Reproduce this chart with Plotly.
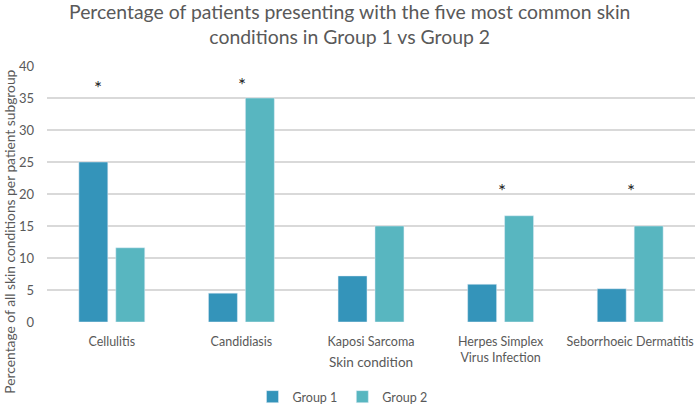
import plotly.graph_objects as go

categories = ["Cellulitis", "Candidiasis", "Kaposi Sarcoma",
              "Herpes Simplex<br>Virus Infection", "Seborrhoeic Dermatitis"]
group1 = [25.0, 4.5, 7.2, 5.9, 5.2]
group2 = [11.6, 35.0, 15.0, 16.6, 15.0]
star_cats = ["Cellulitis", "Candidiasis",
             "Herpes Simplex<br>Virus Infection", "Seborrhoeic Dermatitis"]
star_y = [37.2, 37.8, 21.1, 21.1]
star_shift = [-14, 1, 1, 1]
y_ticks = [0, 5, 10, 15, 20, 25, 30, 35, 40]

FONT = "Lato"
GREY = "#595959"

fig = go.Figure()
fig.add_trace(go.Bar(name="Group 1", x=categories, y=group1, marker_color="#3494BA"))
fig.add_trace(go.Bar(name="Group 2", x=categories, y=group2, marker_color="#58B6C0"))

annotations = []
for c, yv, dx in zip(star_cats, star_y, star_shift):
    annotations.append(dict(x=c, y=yv, xref="x", yref="y", text="*", showarrow=False,
                            xshift=dx, yshift=-4, font=dict(family=FONT, size=19, color="#1a1a1a")))

annotations.append(dict(text="Percentage of patients presenting with the five most common skin<br>conditions in Group 1 vs Group 2",
                        x=0.4668, y=1.165, xref="paper", yref="paper", xanchor="center", yanchor="middle",
                        showarrow=False, font=dict(family=FONT, size=19.4, color=GREY)))
annotations.append(dict(text="Percentage of all skin conditions per patient subgroup",
                        x=-0.0575, y=0.352, xref="paper", yref="paper", xanchor="center", yanchor="middle",
                        textangle=-90, showarrow=False, font=dict(family=FONT, size=13.8, color=GREY)))
annotations.append(dict(text="Skin condition", x=0.5, y=-0.156, xref="paper", yref="paper",
                        xanchor="center", yanchor="middle", showarrow=False,
                        font=dict(family=FONT, size=13.5, color=GREY)))

fig.update_layout(
    width=699, height=412,
    margin=dict(l=47, r=4, t=66, b=90),
    paper_bgcolor="white", plot_bgcolor="white",
    barmode="group", bargap=0.43, bargroupgap=0.216,
    font=dict(family=FONT, size=12, color=GREY),
    showlegend=True,
    legend=dict(orientation="h", x=0.456, xanchor="center", yref="container", y=0.0, yanchor="bottom",
                font=dict(family=FONT, size=12.5, color=GREY), itemwidth=30, traceorder="normal"),
    annotations=annotations,
)
fig.update_xaxes(showgrid=False, showline=False, zeroline=False, ticks="", automargin=False,
                 tickfont=dict(family=FONT, size=12.5, color=GREY), ticklabelstandoff=10)
fig.update_yaxes(range=[0, 40], tickvals=y_ticks, showgrid=True, gridcolor="#D9D9D9", gridwidth=1.5,
                 zeroline=False, showline=False, ticks="", automargin=False,
                 tickfont=dict(family=FONT, size=13, color=GREY), ticklabelstandoff=12)

fig.write_html("out.html")
